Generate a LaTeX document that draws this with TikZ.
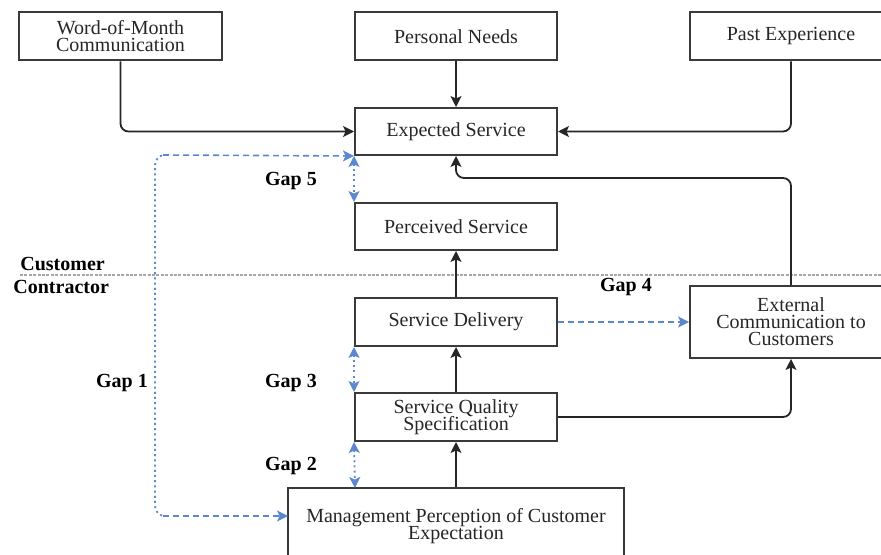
\documentclass[tikz,border=0pt]{standalone}
\usepackage{fontspec}
\setmainfont{Liberation Serif}
\usetikzlibrary{arrows.meta,calc}
\definecolor{gapblue}{HTML}{5B88CC}
\definecolor{boxline}{HTML}{3A3A3A}
\newcommand\mytightlines{\lineskiplimit=-5pt\relax\lineskip=0pt\relax}
\begin{document}
\begin{tikzpicture}[x=0.5pt,y=-0.5pt,
  box/.style={draw=boxline,line width=1pt,align=center,inner sep=0pt,
    minimum width=101pt,minimum height=23.5pt,
    font=\fontsize{10}{8.5}\selectfont\mytightlines,text=black!85},
  arr/.style={draw=black!85,line width=0.9pt,rounded corners=4pt,
    -{Stealth[length=5.5pt,width=5.5pt,inset=1.3pt]}},
  gapdash/.style={draw=gapblue,line width=0.8pt,dash pattern=on 3pt off 2pt,
    -{Stealth[length=5.5pt,width=5.5pt,inset=1.3pt]}},
  gapdot/.style={draw=gapblue,line width=0.9pt,dash pattern=on 1pt off 1.6pt,
    {Stealth[length=5.5pt,width=5.5pt,inset=1.3pt]}-{Stealth[length=5.5pt,width=5.5pt,inset=1.3pt]}},
  gaplabel/.style={font=\fontsize{10}{10}\selectfont\bfseries,inner sep=0pt},
  sidelabel/.style={font=\fontsize{10}{10}\selectfont\bfseries,inner sep=0pt,anchor=west}
]
\useasboundingbox (0,0) rectangle (881,555);
\clip (0,0) rectangle (881,555);

% boxes
\node[box,minimum width=101.5pt,minimum height=24pt] (wom) at (120.5,36.5) {Word-of-Month\\Communication};
\node[box,minimum height=24pt] (pn) at (456,36.5) {Personal Needs};
\node[box,minimum height=24pt] (pe) at (791,36.5) {Past Experience};
\node[box] (es) at (456,131.5) {Expected Service};
\node[box] (ps) at (456,226.5) {Perceived Service};
\node[box,minimum height=24pt] (sd) at (456,322) {Service Delivery};
\node[box,minimum height=24pt] (sqs) at (456,417) {Service Quality\\Specification};
\node[box,minimum height=36pt] (ext) at (791,322) {External\\Communication to\\Customers};
\node[box,minimum width=168pt,minimum height=38pt] (mp) at (456,526) {Management Perception of Customer\\Expectation};

% separator
\coordinate (sepL) at (20,275);
\coordinate (sepR) at (881,275);
\draw[gray!70,line width=0.7pt,dash pattern=on 1.5pt off 0.7pt] (sepL) -- (sepR);
\node[sidelabel] (cust) at (20,264) {Customer};
\node[sidelabel] (cont) at (13,287) {Contractor};

% black connectors
\draw[arr] (wom.south) |- (es.west);
\draw[arr] (pn.south) -- (es.north);
\draw[arr] (pe.south) |- (es.east);
\coordinate (back) at (456,178);
\draw[arr] (ext.north) |- (back) -- (es.south);
\draw[arr] (sd.north) -- (ps.south);
\draw[arr] (sqs.north) -- (sd.south);
\draw[arr] (mp.north) -- (sqs.south);
\draw[arr] (sqs.east) -| (ext.south);

% gaps
\draw[gapdash] (sd.east) -- (ext.west);
\draw[gapdot] (es.south west) -- (ps.north west);
\draw[gapdot] (sd.south west) -- (sqs.north west);
\coordinate (mpTop) at (355,488);
\draw[gapdot] (sqs.south west) -- (mpTop);

\coordinate (g1a) at (163,155);
\coordinate (g1b) at (163,516);
\coordinate (mpL) at (288,516);
\draw[draw=gapblue,line width=0.9pt,dash pattern=on 1pt off 1.6pt,rounded corners=5pt]
  (g1a) -| (155,516) -- (g1b);
\draw[gapdash] (g1a) -- (es.south west);
\draw[gapdash] (g1b) -- (mpL);

\node[gaplabel] (gap5) at (291,181) {Gap 5};
\node[gaplabel] (gap3) at (291,383) {Gap 3};
\node[gaplabel] (gap2) at (291,466) {Gap 2};
\node[gaplabel] (gap1) at (122,383) {Gap 1};
\node[gaplabel] (gap4) at (626,287) {Gap 4};
\end{tikzpicture}
\end{document}
